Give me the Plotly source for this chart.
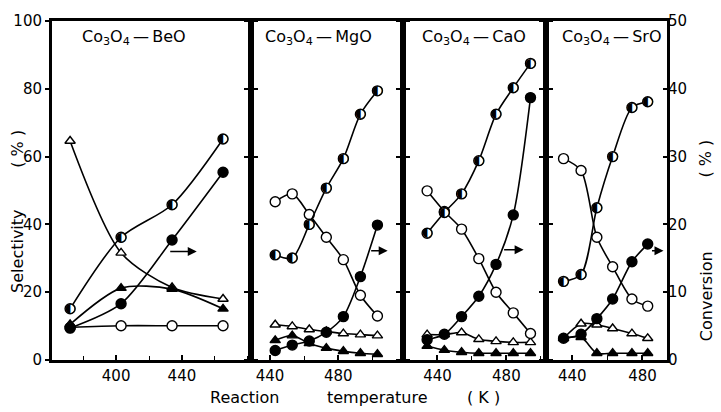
import plotly.graph_objects as go

# ---------------- data ----------------
# Co3O4-BeO
beo_T = [372, 403, 434, 465]
beo_tri_open = [64.6, 31.6, 21.4, 18.0]
beo_tri_filled = [10.5, 21.2, 20.9, 15.1]
beo_circ_open = [9.6, 10.1, 10.1, 10.1]
beo_circ_half = [15.1, 36.2, 45.8, 65.2]
beo_conv = [4.7, 8.3, 17.7, 27.7]

# Co3O4-MgO
mgo_T = [443, 453, 463, 473, 483, 493, 503]
mgo_tri_open = [10.4, 9.9, 9.0, 8.4, 7.8, 7.5, 7.2]
mgo_tri_filled = [5.8, 7.2, 4.9, 3.5, 2.6, 2.0, 1.7]
mgo_circ_open = [46.7, 49.0, 42.9, 36.2, 29.6, 19.1, 13.0]
mgo_circ_half = [31.0, 30.1, 40.0, 50.7, 59.4, 72.5, 79.4]
mgo_conv = [1.4, 2.2, 2.8, 4.1, 6.4, 12.3, 19.9]

# Co3O4-CaO
cao_T = [434, 444, 454, 464, 474, 484, 494]
cao_tri_open = [7.5, 7.5, 8.1, 6.1, 5.5, 5.2, 5.2]
cao_tri_filled = [4.1, 2.9, 2.3, 2.0, 2.0, 2.0, 2.0]
cao_circ_open = [49.9, 43.8, 38.6, 29.9, 20.0, 13.9, 7.8]
cao_circ_half = [37.4, 43.5, 49.0, 58.8, 72.5, 80.3, 87.5]
cao_conv = [3.0, 3.8, 6.4, 9.4, 14.1, 21.4, 38.7]

# Co3O4-SrO
sro_T = [435, 445, 454, 463, 474, 483]
sro_tri_open = [6.4, 10.7, 10.4, 9.3, 7.8, 6.4]
sro_tri_filled = [6.4, 6.7, 2.0, 2.0, 2.0, 2.0]
sro_circ_open = [59.4, 55.9, 36.2, 27.5, 18.0, 15.9]
sro_circ_half = [23.2, 25.2, 44.9, 60.0, 74.5, 76.2]
sro_conv = [3.2, 3.8, 6.1, 9.0, 14.5, 17.1]

panel_names = ["BeO", "MgO", "CaO", "SrO"]
x_ranges = [[361, 482], [428.8, 518], [420, 503], [425, 494]]
x_tickvals = [[400, 440], [440, 480], [440, 480], [440, 480]]
sel_ticks = [0, 20, 40, 60, 80, 100]
conv_ticks = [0, 10, 20, 30, 40, 50]

panels = [
    (beo_T, beo_tri_open, beo_tri_filled, beo_circ_open, beo_circ_half, beo_conv),
    (mgo_T, mgo_tri_open, mgo_tri_filled, mgo_circ_open, mgo_circ_half, mgo_conv),
    (cao_T, cao_tri_open, cao_tri_filled, cao_circ_open, cao_circ_half, cao_conv),
    (sro_T, sro_tri_open, sro_tri_filled, sro_circ_open, sro_circ_half, sro_conv),
]

# ---------------- layout geometry ----------------
W, H = 721, 412
ML, MR, MT, MB = 52, 54, 15, 52
col_px = [199, 152, 143, 121]
PW = sum(col_px)
PH = H - MT - MB

FONT = "DejaVu Sans"
LW = 1.6

fig = go.Figure()
layout = dict(
    width=W, height=H,
    margin=dict(l=ML, r=MR, t=MT, b=MB, pad=0),
    paper_bgcolor="white", plot_bgcolor="white",
    showlegend=False,
    font=dict(family=FONT, size=15, color="black"),
)

start = 0
for i in range(4):
    n = i + 1
    d0 = start / PW
    d1 = (start + col_px[i]) / PW
    start += col_px[i]
    xs = "" if n == 1 else str(n)
    layout["xaxis" + xs] = dict(
        domain=[d0, d1], range=x_ranges[i], anchor="y" + xs,
        tickvals=x_tickvals[i], ticktext=[str(v) for v in x_tickvals[i]],
        ticks="inside", ticklen=5, tickwidth=1.5, tickcolor="black",
        minor=dict(dtick=20, tick0=400, ticks="inside", ticklen=4, tickwidth=1.2, tickcolor="black", showgrid=False),
        showline=True, linewidth=3, linecolor="black", mirror=True,
        showgrid=False, zeroline=False,
        tickfont=dict(size=15, family=FONT),
    )
    layout["yaxis" + xs] = dict(
        domain=[0, 1], range=[0, 100], anchor="x" + xs,
        tickvals=sel_ticks, ticktext=[str(v) for v in sel_ticks],
        showticklabels=(n == 1),
        ticks="outside", ticklen=4, tickwidth=1.5, tickcolor="black",
        showline=True, linewidth=3, linecolor="black",
        mirror=(True if n == 4 else "ticks"),
        showgrid=False, zeroline=False,
        tickfont=dict(size=15, family=FONT),
    )
    cy = str(n + 4)
    layout["yaxis" + cy] = dict(
        range=[0, 50], anchor="x" + xs, overlaying="y" + xs,
        side="right", visible=(n == 4),
        tickvals=conv_ticks, ticktext=[str(v) for v in conv_ticks],
        ticks="inside", ticklen=4, tickwidth=1.5, tickcolor="black",
        showline=False, showgrid=False, zeroline=False,
        tickfont=dict(size=15, family=FONT),
    )

    T, tri_o, tri_f, circ_o, circ_h, conv = panels[i]
    xa = "x" + xs
    ya = "y" + xs
    yc = "y" + cy

    def add(y, yref, symbol, fill, size=9):
        fig.add_trace(go.Scatter(
            x=T, y=y, xaxis=xa, yaxis=yref, mode="lines+markers",
            line=dict(color="black", width=LW, shape="spline", smoothing=0.8),
            marker=dict(symbol=symbol, size=size, color=fill,
                        line=dict(color="black", width=1.4)),
            cliponaxis=False,
        ))

    add(tri_o, ya, "triangle-up", "white", 9)
    add(tri_f, ya, "triangle-up", "black", 9)
    add(circ_o, ya, "circle", "white", 10)
    # half-filled circles: line + white disc + half-disc glyph
    fig.add_trace(go.Scatter(
        x=T, y=circ_h, xaxis=xa, yaxis=ya, mode="lines",
        line=dict(color="black", width=LW, shape="spline", smoothing=0.8),
    ))
    fig.add_trace(go.Scatter(
        x=T, y=circ_h, xaxis=xa, yaxis=ya, mode="markers+text",
        marker=dict(symbol="circle", size=10, color="white",
                    line=dict(color="black", width=1.4)),
        text=["\u25D0"] * len(T), textposition="middle center",
        textfont=dict(size=13, family=FONT, color="black"),
        cliponaxis=False,
    ))
    add(conv, yc, "circle", "black", 10)

layout_title_x = [80, 263, 420, 560]
annotations = []
for i, name in enumerate(panel_names):
    annotations.append(dict(
        x=(layout_title_x[i] - ML) / PW, y=(H - MB - 32) / PH,
        xref="paper", yref="paper", xanchor="left", yanchor="middle",
        text="Co<sub>3</sub>O<sub>4</sub>\u2009\u2014\u2009" + name, showarrow=False,
        font=dict(size=16, family=FONT),
    ))

# arrows pointing to the conversion axis
arrows = [("x", 449, 32.0, -28), ("x2", 509, 32.2, -18), ("x3", 490, 32.5, -21), ("x4", 492, 32.2, -13)]
for xr, xv, yv, ax in arrows:
    annotations.append(dict(
        x=xv, y=yv, xref=xr, yref="y" + ("" if xr == "x" else xr[1:]),
        ax=ax, ay=0, axref="pixel", ayref="pixel", text="",
        showarrow=True, arrowhead=2, arrowsize=1.2, arrowwidth=1.5, arrowcolor="black",
    ))

def title_piece(text, px, py, angle=0):
    annotations.append(dict(
        x=(px - ML) / PW, y=(H - MB - py) / PH, xref="paper", yref="paper",
        xanchor="center", yanchor="middle", text=text, textangle=angle,
        showarrow=False, font=dict(size=16, family=FONT),
    ))

title_piece("Selectivity", 18, 250, -90)
title_piece("( % )", 18, 145, -90)
title_piece("Conversion", 706, 295, -90)
title_piece("( % )", 706, 155, -90)
title_piece("Reaction", 245, 398)
title_piece("temperature", 378, 398)
title_piece("( K )", 483, 398)

layout["annotations"] = annotations
fig.update_layout(**layout)
fig.write_html("out.html")
